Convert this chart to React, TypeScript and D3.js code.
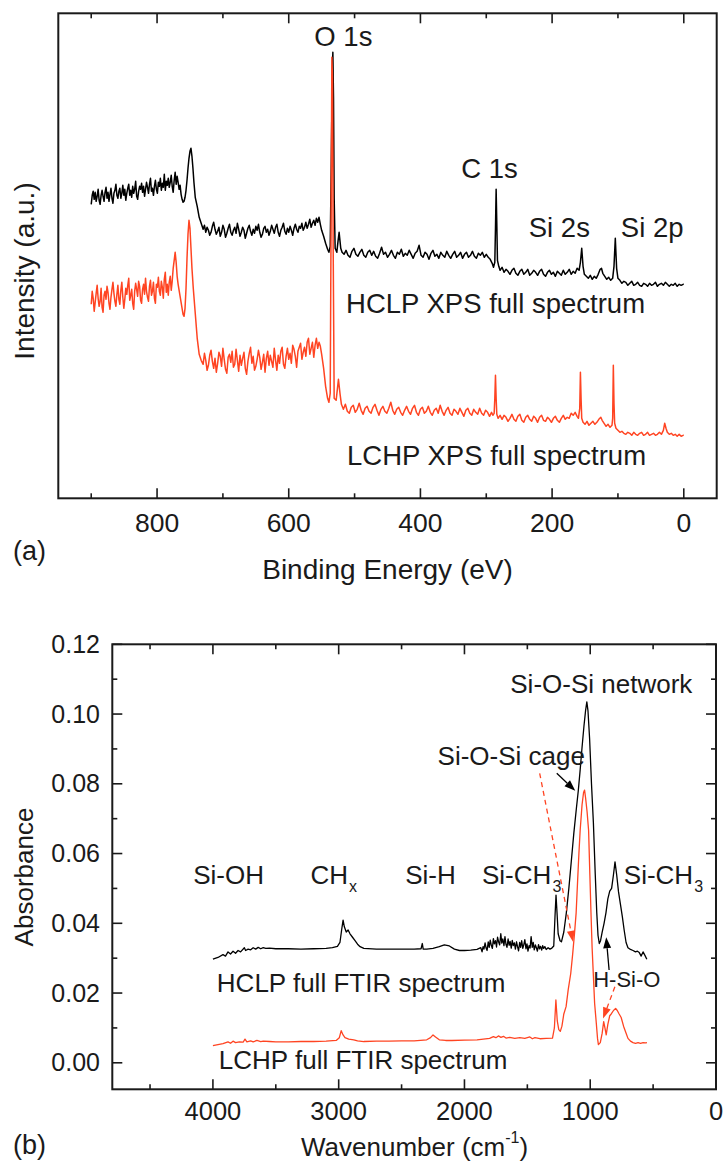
import React from 'react';
import * as d3 from 'd3';

const FONT = '"Liberation Sans", Arial, Helvetica, sans-serif';
const INK = '#1a1a1a';
const RED = '#ff4422';

// ---------- (a) XPS survey: binding energy (eV) vs intensity (a.u.) ----------
const xpsMajorTicks = [800, 600, 400, 200, 0];
const xpsMinorTicks = [900, 700, 500, 300, 100];

const hclpXps: [number, number][] = [
  [900, 294], [898.5, 303], [897, 307], [895.5, 299], [894, 306], [892.5, 297], [891, 302], [889.5, 309], [888, 298],
  [886.5, 294], [885, 303], [883.5, 308], [882, 302], [880.5, 297], [879, 306], [877.5, 311], [876, 300], [874.5, 306],
  [873, 297], [871.5, 304], [870, 310], [868.5, 300], [867, 295], [865.5, 305], [864, 308], [862.5, 314], [861, 303],
  [859.5, 300], [858, 307], [856.5, 310], [855, 300], [853.5, 305], [852, 313], [850.5, 303], [849, 309], [847.5, 298],
  [846, 305], [844.5, 310], [843, 314], [841.5, 303], [840, 308], [838.5, 301], [837, 312], [835.5, 305], [834, 309],
  [832.5, 317], [831, 302], [829.5, 299], [828, 307], [826.5, 312], [825, 309], [823.5, 315], [822, 306], [820.5, 312],
  [819, 302], [817.5, 309], [816, 316], [814.5, 311], [813, 305], [811.5, 314], [810, 320], [808.5, 307], [807, 310],
  [805.5, 303], [804, 312], [802.5, 318], [801, 309], [799.5, 305], [798, 316], [796.5, 312], [795, 320], [793.5, 308],
  [792, 315], [790.5, 311], [789, 324], [787.5, 308], [786, 317], [784.5, 313], [783, 320], [781.5, 311], [780, 316],
  [778.5, 323], [777, 312], [775.5, 306], [774, 318], [772.5, 326], [771, 314], [769.5, 322], [768, 316], [766.5, 309],
  [765, 313], [763.5, 304], [762, 299], [760.5, 296], [759, 297], [757.5, 301], [756, 308], [754.5, 318], [753, 330],
  [751.5, 340], [750, 347], [748.5, 350], [747, 342], [745.5, 330], [744, 316], [742, 301], [739, 292], [736, 281],
  [733, 275], [730, 269],
  [728, 273], [726, 266], [724, 271], [722, 268], [720, 263], [718, 266], [716, 272], [714, 276], [712, 269], [710, 264],
  [708, 267], [706, 271], [704, 262], [702, 266], [700, 273], [698, 269], [696, 261], [694, 265], [692, 270], [690, 274],
  [688, 266], [686, 263], [684, 268], [682, 271], [680, 265], [678, 275], [676, 269], [674, 262], [672, 266], [670, 271],
  [668, 268], [666, 260], [664, 265], [662, 270], [660, 273], [658, 267], [656, 263], [654, 269], [652, 265], [650, 272],
  [648, 268], [646, 274], [644, 266], [642, 261], [640, 264], [638, 270], [636, 272], [634, 266], [632, 269], [630, 263],
  [628, 267], [626, 273], [624, 269], [622, 265], [620, 271], [618, 274], [616, 266], [614, 262], [612, 268], [610, 271],
  [608, 275], [606, 267], [604, 264], [602, 270], [600, 266], [598, 272], [596, 268], [594, 263], [592, 270], [590, 274],
  [588, 269], [586, 266], [584, 272], [582, 270], [580, 275], [578, 268], [576, 271], [574, 276], [572, 270], [570, 274],
  [568, 279], [566, 271], [564, 275], [562, 278], [560, 273], [558, 280], [556, 276], [554, 281], [552, 274], [550, 268],
  [547, 262], [544, 255], [541, 249], [539, 246], [537, 252], [535.5, 330], [534, 420], [533, 446], [532, 400], [531, 300],
  [529.5, 250], [527, 246], [525, 258], [523.5, 266], [521, 250], [519, 246],
  [516, 244], [513, 248], [510, 243], [507, 241], [504, 247], [501, 250], [498, 244], [495, 242], [492, 246], [489, 249],
  [486, 243], [483, 241], [480, 246], [477, 248], [474, 243], [471, 247], [468, 242], [465, 240], [462, 245], [459, 251],
  [456, 244], [453, 246], [450, 241], [447, 244], [444, 248], [441, 243], [438, 240], [435, 246], [432, 244], [429, 249],
  [426, 242], [423, 245], [420, 243], [417, 248], [414, 244], [411, 240], [408, 245], [405, 247], [402, 253], [399, 243],
  [396, 241], [393, 246], [390, 244], [387, 239], [384, 245], [381, 248], [378, 242], [375, 244], [372, 240], [369, 246],
  [366, 243], [363, 241], [360, 247], [357, 243], [354, 240], [351, 244], [348, 247], [345, 241], [342, 243], [339, 246],
  [336, 240], [333, 244], [330, 246], [327, 241], [324, 243], [321, 247], [318, 242], [315, 240], [312, 245], [309, 243],
  [306, 246], [303, 241], [300, 244], [297, 241], [294, 239], [291, 235], [289, 231], [287, 236], [286, 270], [285, 309],
  [284, 275], [283, 238], [281, 232], [279, 228], [276, 231],
  [273, 226], [270, 229], [267, 227], [264, 224], [261, 228], [258, 230], [255, 225], [252, 223], [249, 227], [246, 229],
  [243, 224], [240, 226], [237, 229], [234, 223], [231, 225], [228, 228], [225, 226], [222, 223], [219, 227], [216, 229],
  [213, 224], [210, 222], [207, 226], [204, 228], [201, 224], [198, 226], [195, 222], [192, 227], [189, 225], [186, 223],
  [183, 228], [180, 224], [177, 226], [174, 229], [171, 224], [168, 227], [165, 225], [162, 230], [159, 228], [157, 236],
  [155, 250], [153, 232], [151, 224], [148, 222], [145, 220], [142, 223], [139, 219], [136, 222], [133, 220], [130, 224],
  [127, 229], [125, 230], [123, 225], [120, 222], [117, 219], [114, 221], [111, 218], [108, 220], [106, 232], [104, 260],
  [102, 230], [100, 220], [97, 218], [94, 215], [91, 217], [88, 216], [85, 213], [82, 215], [79, 217], [76, 213],
  [73, 214], [70, 216], [67, 213], [64, 212], [61, 215], [58, 214], [55, 212], [52, 215], [49, 213], [46, 214],
  [43, 216], [40, 212], [37, 214], [34, 215], [31, 213], [28, 216], [25, 214], [22, 212], [19, 214], [16, 213],
  [13, 215], [10, 212], [7, 214], [4, 213], [1, 214], [0, 214],
];

const lchpXps: [number, number][] = [
  [900, 194], [898.5, 207], [897, 200], [895.5, 187], [894, 196], [892.5, 205], [891, 213], [889.5, 200], [888, 192],
  [886.5, 197], [885, 210], [883.5, 191], [882, 186], [880.5, 203], [879, 207], [877.5, 199], [876, 212], [874.5, 206],
  [873, 195], [871.5, 189], [870, 201], [868.5, 209], [867, 216], [865.5, 205], [864, 197], [862.5, 192], [861, 204],
  [859.5, 213], [858, 199], [856.5, 194], [855, 208], [853.5, 216], [852, 201], [850.5, 190], [849, 199], [847.5, 210],
  [846, 204], [844.5, 213], [843, 220], [841.5, 198], [840, 203], [838.5, 209], [837, 195], [835.5, 189], [834, 207],
  [832.5, 215], [831, 209], [829.5, 202], [828, 217], [826.5, 212], [825, 198], [823.5, 195], [822, 209], [820.5, 214],
  [819, 204], [817.5, 220], [816, 207], [814.5, 201], [813, 197], [811.5, 212], [810, 218], [808.5, 203], [807, 207],
  [805.5, 216], [804, 200], [802.5, 195], [801, 214], [799.5, 211], [798, 221], [796.5, 207], [795, 203], [793.5, 217],
  [792, 211], [790.5, 200], [789, 219], [787.5, 226], [786, 206], [784.5, 214], [783, 203], [781.5, 216], [780, 222],
  [778.5, 208], [777, 217], [775.5, 230], [774, 238], [772.5, 246], [771, 236], [769.5, 222], [768, 214], [766.5, 208],
  [765, 202], [763.5, 196], [762, 190], [760.5, 184], [759, 182], [757.5, 190], [756, 210], [754.5, 240], [753, 264],
  [751.5, 278], [750, 270], [748.5, 250], [747, 230], [745, 210], [742, 185], [739, 160], [736, 144], [733, 138],
  [730, 134], [728, 145], [726, 138], [724, 128], [722, 133], [720, 143], [718, 148], [716, 137], [714, 130], [712, 140],
  [710, 126], [708, 135], [706, 146], [704, 142], [702, 132], [700, 150], [698, 139], [696, 129], [694, 125], [692, 141],
  [690, 144], [688, 136], [686, 147], [684, 131], [682, 134], [680, 149], [678, 138], [676, 127], [674, 143], [672, 133],
  [670, 140], [668, 146], [666, 130], [664, 124], [662, 137], [660, 145], [658, 151], [656, 135], [654, 142], [652, 128],
  [650, 132], [648, 139], [646, 148], [644, 141], [642, 129], [640, 136], [638, 144], [636, 126], [634, 140], [632, 147],
  [630, 133], [628, 143], [626, 137], [624, 131], [622, 150], [620, 138], [618, 128], [616, 143], [614, 135], [612, 147],
  [610, 151], [608, 134], [606, 130], [604, 142], [602, 150], [600, 139], [598, 145], [596, 135], [594, 153], [592, 149],
  [590, 142], [588, 131], [586, 147], [584, 151], [582, 155], [580, 139], [578, 146], [576, 151], [574, 142], [572, 156],
  [570, 160], [568, 144], [566, 150], [564, 156], [562, 141], [560, 153], [558, 160], [556, 150], [554, 156], [552, 152],
  [550, 144], [547, 130], [544, 112], [541, 100], [539, 96], [537, 105], [535.5, 300], [534.5, 441], [533.5, 420],
  [532.5, 250], [531, 100], [528, 98], [526, 110], [524.5, 119], [522, 104], [520, 94],
  [517, 89], [514, 94], [511, 87], [508, 85], [505, 91], [502, 93], [499, 86], [496, 89], [493, 95], [490, 88],
  [487, 84], [484, 90], [481, 92], [478, 87], [475, 85], [472, 91], [469, 94], [466, 88], [463, 83], [460, 89],
  [457, 92], [454, 87], [451, 85], [448, 90], [445, 96], [442, 88], [439, 84], [436, 89], [433, 91], [430, 86],
  [427, 83], [424, 88], [421, 92], [418, 87], [415, 84], [412, 90], [409, 93], [406, 86], [403, 83], [400, 89],
  [397, 91], [394, 85], [391, 87], [388, 92], [385, 86], [382, 83], [379, 88], [376, 90], [373, 85], [370, 93],
  [367, 87], [364, 83], [361, 88], [358, 91], [355, 85], [352, 83], [349, 89], [346, 87], [343, 84], [340, 90],
  [337, 86], [334, 82], [331, 88], [328, 90], [325, 85], [322, 83], [319, 89], [316, 86], [313, 84], [310, 90],
  [307, 85], [304, 83], [301, 88], [298, 86], [295, 82], [292, 86], [290, 83], [288, 85], [287, 100], [286, 123],
  [285, 100], [284, 84], [282, 80], [279, 83],
  [276, 79], [273, 83], [270, 81], [267, 77], [264, 80], [261, 84], [258, 79], [255, 77], [252, 82], [249, 84],
  [246, 78], [243, 76], [240, 81], [237, 83], [234, 79], [231, 77], [228, 82], [225, 80], [222, 76], [219, 81],
  [216, 83], [213, 78], [210, 77], [207, 81], [204, 79], [201, 76], [198, 80], [195, 82], [192, 78], [189, 76],
  [186, 80], [183, 83], [180, 79], [177, 81], [174, 80], [171, 85], [168, 83], [165, 86], [162, 82], [160, 80],
  [158, 90], [157, 126], [156, 100], [155, 80], [153, 76], [150, 74], [147, 77], [144, 73], [141, 75], [138, 77],
  [135, 74], [132, 76], [129, 79], [126, 81], [124, 78], [121, 75], [118, 72], [115, 74], [112, 71], [109, 73],
  [108, 80], [107, 133], [106, 95], [105, 75], [103, 70], [100, 68], [97, 66], [94, 67], [91, 65], [88, 64],
  [85, 66], [82, 65], [79, 63], [76, 66], [73, 64], [70, 63], [67, 65], [64, 66], [61, 63], [58, 64],
  [55, 66], [52, 63], [49, 64], [46, 65], [43, 63], [40, 64], [37, 66], [34, 64], [31, 68], [29, 75],
  [27, 70], [25, 66], [22, 64], [19, 65], [16, 63], [13, 64], [10, 62], [7, 64], [4, 62], [1, 63], [0, 63],
];

// peak labels: [text, energy at text centre, intensity at baseline]
const xpsPeakLabels: [string, number, number][] = [
  ['O 1s', 517, 452],
  ['C 1s', 295, 320],
  ['Si 2s', 189, 261],
  ['Si 2p', 48, 261],
];
// curve labels: [text, energy at text start, intensity at baseline]
const xpsCurveLabels: [string, number, number][] = [
  ['HCLP XPS full spectrum', 513, 185],
  ['LCHP XPS full spectrum', 511.5, 33],
];

// ---------- (b) FTIR: wavenumber (cm-1) vs absorbance ----------
const irMajorTicks = [4000, 3000, 2000, 1000, 0];
const irMinorTicks = [4500, 3500, 2500, 1500, 500];
const absMajorTicks = [0, 0.02, 0.04, 0.06, 0.08, 0.1, 0.12];
const absMinorTicks = [0.01, 0.03, 0.05, 0.07, 0.09, 0.11];

const hclpFtir: [number, number][] = [
  [4000, 0.0297], [3960, 0.0302], [3920, 0.0310], [3900, 0.0306], [3880, 0.0318], [3860, 0.0312], [3840, 0.0320],
  [3820, 0.0314], [3800, 0.0322], [3780, 0.0318], [3750, 0.0330], [3740, 0.0322], [3720, 0.0326], [3700, 0.0324],
  [3680, 0.0330], [3660, 0.0326], [3640, 0.0331], [3620, 0.0327], [3600, 0.0330], [3580, 0.0328], [3550, 0.0329],
  [3500, 0.0327], [3400, 0.0327], [3300, 0.0326], [3200, 0.0327], [3100, 0.0328], [3050, 0.0330], [3010, 0.0334],
  [2990, 0.0345], [2975, 0.0385], [2965, 0.0409], [2955, 0.0390], [2940, 0.0375], [2925, 0.0381], [2910, 0.0370],
  [2890, 0.0360], [2870, 0.0350], [2850, 0.0340], [2830, 0.0333], [2800, 0.0328], [2700, 0.0326], [2600, 0.0326],
  [2500, 0.0326], [2400, 0.0326], [2345, 0.0327], [2335, 0.0342], [2328, 0.0326], [2300, 0.0326], [2250, 0.0328],
  [2200, 0.0333], [2160, 0.0338], [2120, 0.0335], [2080, 0.0326], [2040, 0.0322], [2000, 0.0322], [1950, 0.0323],
  [1900, 0.0325], [1870, 0.0330],
  [1860, 0.0318], [1852, 0.0333], [1845, 0.0326], [1836, 0.0344], [1828, 0.0329], [1820, 0.0322], [1811, 0.0347],
  [1803, 0.0331], [1795, 0.0352], [1786, 0.0336], [1778, 0.0328], [1770, 0.0356], [1762, 0.0341], [1753, 0.0350],
  [1745, 0.0332], [1737, 0.0360], [1728, 0.0346], [1720, 0.0338], [1711, 0.0370], [1703, 0.0343], [1695, 0.0355],
  [1686, 0.0336], [1678, 0.0362], [1670, 0.0340], [1662, 0.0331], [1653, 0.0355], [1645, 0.0337], [1637, 0.0348],
  [1628, 0.0329], [1620, 0.0351], [1612, 0.0336], [1603, 0.0344], [1595, 0.0326], [1586, 0.0347], [1578, 0.0333],
  [1570, 0.0321], [1561, 0.0345], [1553, 0.0331], [1545, 0.0350], [1536, 0.0328], [1528, 0.0339], [1520, 0.0353],
  [1511, 0.0327], [1503, 0.0341], [1495, 0.0320], [1486, 0.0336], [1478, 0.0329], [1470, 0.0362], [1461, 0.0331],
  [1453, 0.0345], [1445, 0.0324], [1436, 0.0338], [1428, 0.0330], [1420, 0.0320], [1411, 0.0339], [1403, 0.0327],
  [1395, 0.0334], [1386, 0.0323], [1378, 0.0336], [1370, 0.0328], [1361, 0.0333], [1350, 0.0325], [1335, 0.0330],
  [1320, 0.0326], [1305, 0.0329], [1290, 0.0335], [1280, 0.0420], [1272, 0.0481], [1264, 0.0430],
  [1255, 0.0370], [1240, 0.0350], [1229, 0.0347], [1210, 0.0375], [1190, 0.0430], [1170, 0.0500], [1150, 0.0580],
  [1130, 0.0660], [1110, 0.0730], [1095, 0.0780], [1080, 0.0840], [1065, 0.0905], [1050, 0.0965], [1037, 0.1010],
  [1027, 0.1035], [1018, 0.1010], [1005, 0.0930], [990, 0.0800], [975, 0.0690], [960, 0.0540], [948, 0.0430],
  [938, 0.0365], [928, 0.0342], [918, 0.0350], [905, 0.0375], [890, 0.0400], [875, 0.0430], [860, 0.0470],
  [845, 0.0492], [830, 0.0500], [815, 0.0540], [803, 0.0576], [790, 0.0540], [775, 0.0490], [760, 0.0455],
  [745, 0.0420], [730, 0.0380], [715, 0.0345], [700, 0.0330], [680, 0.0325], [660, 0.0322], [640, 0.0318],
  [625, 0.0320], [610, 0.0316], [595, 0.0306], [580, 0.0318], [565, 0.0308], [550, 0.0297],
];

const lchpFtir: [number, number][] = [
  [4000, 0.0049], [3960, 0.0052], [3920, 0.0055], [3880, 0.0060], [3860, 0.0056], [3840, 0.0062], [3820, 0.0058],
  [3790, 0.0060], [3760, 0.0059], [3745, 0.0068], [3730, 0.0060], [3700, 0.0063], [3680, 0.0060], [3650, 0.0064],
  [3620, 0.0061], [3600, 0.0062], [3550, 0.0061], [3500, 0.0060], [3400, 0.0060], [3300, 0.0061], [3200, 0.0061],
  [3100, 0.0062], [3020, 0.0064], [2995, 0.0072], [2980, 0.0092], [2965, 0.0080], [2950, 0.0072], [2920, 0.0068],
  [2880, 0.0066], [2850, 0.0063], [2800, 0.0061], [2700, 0.0062], [2600, 0.0062], [2500, 0.0063], [2400, 0.0063],
  [2300, 0.0066], [2270, 0.0072], [2250, 0.0080], [2230, 0.0074], [2200, 0.0066], [2150, 0.0064], [2100, 0.0064],
  [2000, 0.0065], [1900, 0.0066], [1850, 0.0068], [1800, 0.0070], [1770, 0.0075], [1750, 0.0072], [1730, 0.0077],
  [1710, 0.0073], [1690, 0.0076], [1670, 0.0071], [1640, 0.0073], [1600, 0.0070], [1560, 0.0072], [1520, 0.0070],
  [1480, 0.0074], [1460, 0.0069], [1440, 0.0072], [1400, 0.0069], [1350, 0.0070], [1300, 0.0071], [1285, 0.0100],
  [1273, 0.0180], [1262, 0.0120], [1250, 0.0095], [1238, 0.0090], [1225, 0.0105], [1210, 0.0140], [1192, 0.0161],
  [1175, 0.0210], [1155, 0.0256], [1140, 0.0310], [1125, 0.0371], [1112, 0.0430], [1100, 0.0524], [1090, 0.0600],
  [1080, 0.0667], [1065, 0.0740], [1053, 0.0775], [1045, 0.0782], [1037, 0.0760], [1025, 0.0720], [1013, 0.0667],
  [1003, 0.0540], [994, 0.0430], [985, 0.0330], [975, 0.0250], [965, 0.0170], [952, 0.0115], [942, 0.0070],
  [935, 0.0052], [920, 0.0058], [905, 0.0085], [893, 0.0118], [882, 0.0098], [873, 0.0080], [860, 0.0110],
  [845, 0.0135], [833, 0.0140], [815, 0.0150], [798, 0.0156], [785, 0.0150], [770, 0.0140], [754, 0.0130],
  [735, 0.0105], [717, 0.0087], [700, 0.0070], [680, 0.0062], [660, 0.0058], [640, 0.0056], [620, 0.0058],
  [600, 0.0056], [580, 0.0058], [560, 0.0057], [549, 0.0058],
];

// band labels: [text, subscript, wavenumber at text start, absorbance at baseline]
const bandLabels: [string, string, number, number][] = [
  ['Si-OH', '', 4157, 0.0513],
  ['CH', 'x', 3224, 0.0513],
  ['Si-H', '', 2471, 0.0513],
  ['Si-CH', '3', 1861, 0.0513],
  ['Si-CH', '3', 733, 0.0513],
];
const irCurveLabels: [string, number, number][] = [
  ['HCLP full FTIR spectrum', 2822, 0.0203],
  ['LCHP full FTIR spectrum', 2806, -0.0018],
];
// arrows: [from wn, from A, to wn, to A, dashed red?]
const irArrows: [number, number, number, number, boolean][] = [
  [1266, 0.0830, 1119, 0.0780, false],
  [1402, 0.0830, 1137, 0.0347, true],
  [850, 0.0266, 873, 0.0360, false],
  [804, 0.0218, 898, 0.0127, true],
];

// ---------- layout ----------
const W = 724;
const H = 1164;
const topBox = { left: 58.3, right: 716.7, top: 13.3, bottom: 498.3 };
const botBox = { left: 112.3, right: 716, top: 644.3, bottom: 1089.3 };

const xXps = d3.scaleLinear().domain([950, -50]).range([topBox.left, topBox.right]);
const yXps = d3.scaleLinear().domain([0, 485]).range([topBox.bottom, topBox.top]);
const xIr = d3.scaleLinear().domain([4800, 0]).range([botBox.left, botBox.right]);
const yIr = d3.scaleLinear().domain([-0.0076, 0.12]).range([botBox.bottom, botBox.top]);

const MAJOR = 10;
const MINOR = 5;

function Arrow({ x1, y1, x2, y2, color, dashed }: { x1: number; y1: number; x2: number; y2: number; color: string; dashed: boolean }) {
  const ang = Math.atan2(y2 - y1, x2 - x1);
  const len = 11;
  const half = 4;
  const bx = x2 - len * Math.cos(ang);
  const by = y2 - len * Math.sin(ang);
  const px = -Math.sin(ang) * half;
  const py = Math.cos(ang) * half;
  return (
    <g>
      <line x1={x1} y1={y1} x2={bx} y2={by} stroke={color} strokeWidth={1.3} strokeDasharray={dashed ? '5 4' : undefined} />
      <polygon points={`${x2},${y2} ${bx + px},${by + py} ${bx - px},${by - py}`} fill={color} />
    </g>
  );
}

export default function App() {
  const xpsLine = d3.line<[number, number]>().x((d) => xXps(d[0])).y((d) => yXps(d[1]));
  const irLine = d3.line<[number, number]>().x((d) => xIr(d[0])).y((d) => yIr(d[1]));

  const txt = { fontFamily: FONT, fill: INK } as const;

  return (
    <svg width={W} height={H} viewBox={`0 0 ${W} ${H}`} style={{ position: 'absolute', left: 0, top: 0, background: '#fff' }}>
      <rect x={0} y={0} width={W} height={H} fill="#fff" />

      {/* ===== panel (a) ===== */}
      <g>
        <clipPath id="clipA">
          <rect x={topBox.left} y={topBox.top} width={topBox.right - topBox.left} height={topBox.bottom - topBox.top} />
        </clipPath>
        <g clipPath="url(#clipA)" fill="none" strokeLinejoin="round">
          <path d={xpsLine(hclpXps) ?? ''} stroke="#000" strokeWidth={1.5} />
          <path d={xpsLine(lchpXps) ?? ''} stroke={RED} strokeWidth={1.5} />
        </g>
        {xpsMajorTicks.map((v) => (
          <g key={`am${v}`} stroke={INK} strokeWidth={1.6}>
            <line x1={xXps(v)} x2={xXps(v)} y1={topBox.bottom} y2={topBox.bottom - MAJOR} />
            <line x1={xXps(v)} x2={xXps(v)} y1={topBox.top} y2={topBox.top + MAJOR} />
          </g>
        ))}
        {xpsMinorTicks.map((v) => (
          <g key={`an${v}`} stroke={INK} strokeWidth={1.6}>
            <line x1={xXps(v)} x2={xXps(v)} y1={topBox.bottom} y2={topBox.bottom - MINOR} />
            <line x1={xXps(v)} x2={xXps(v)} y1={topBox.top} y2={topBox.top + MINOR} />
          </g>
        ))}
        <rect x={topBox.left} y={topBox.top} width={topBox.right - topBox.left} height={topBox.bottom - topBox.top}
          fill="none" stroke={INK} strokeWidth={2} />
        {xpsMajorTicks.map((v) => (
          <text key={`al${v}`} x={xXps(v)} y={531.5} textAnchor="middle" fontSize={26.5} {...txt}>{v}</text>
        ))}
        {xpsPeakLabels.map(([t, e, i]) => (
          <text key={t} x={xXps(e)} y={yXps(i)} textAnchor="middle" fontSize={27.5} {...txt}>{t}</text>
        ))}
        {xpsCurveLabels.map(([t, e, i]) => (
          <text key={t} x={xXps(e)} y={yXps(i)} textAnchor="start" fontSize={27.5} {...txt}>{t}</text>
        ))}
        <text x={387.5} y={578.5} textAnchor="middle" fontSize={28} {...txt}>Binding Energy (eV)</text>
        <text transform="translate(33.5,271) rotate(-90)" textAnchor="middle" fontSize={28} {...txt}>Intensity (a.u.)</text>
        <text x={13} y={559.5} fontSize={27} {...txt}>(a)</text>
      </g>

      {/* ===== panel (b) ===== */}
      <g>
        <clipPath id="clipB">
          <rect x={botBox.left} y={botBox.top} width={botBox.right - botBox.left} height={botBox.bottom - botBox.top} />
        </clipPath>
        <g clipPath="url(#clipB)" fill="none" strokeLinejoin="round">
          <path d={irLine(hclpFtir) ?? ''} stroke="#000" strokeWidth={1.3} />
          <path d={irLine(lchpFtir) ?? ''} stroke={RED} strokeWidth={1.3} />
        </g>
        {irMajorTicks.map((v) => (
          <g key={`bm${v}`} stroke={INK} strokeWidth={1.6}>
            <line x1={xIr(v)} x2={xIr(v)} y1={botBox.bottom} y2={botBox.bottom - MAJOR} />
            <line x1={xIr(v)} x2={xIr(v)} y1={botBox.top} y2={botBox.top + MAJOR} />
          </g>
        ))}
        {irMinorTicks.map((v) => (
          <g key={`bn${v}`} stroke={INK} strokeWidth={1.6}>
            <line x1={xIr(v)} x2={xIr(v)} y1={botBox.bottom} y2={botBox.bottom - MINOR} />
            <line x1={xIr(v)} x2={xIr(v)} y1={botBox.top} y2={botBox.top + MINOR} />
          </g>
        ))}
        {absMajorTicks.map((v) => (
          <g key={`ym${v}`} stroke={INK} strokeWidth={1.6}>
            <line x1={botBox.left} x2={botBox.left + MAJOR} y1={yIr(v)} y2={yIr(v)} />
            <line x1={botBox.right} x2={botBox.right - MAJOR} y1={yIr(v)} y2={yIr(v)} />
          </g>
        ))}
        {absMinorTicks.map((v) => (
          <g key={`yn${v}`} stroke={INK} strokeWidth={1.6}>
            <line x1={botBox.left} x2={botBox.left + MINOR} y1={yIr(v)} y2={yIr(v)} />
            <line x1={botBox.right} x2={botBox.right - MINOR} y1={yIr(v)} y2={yIr(v)} />
          </g>
        ))}
        <rect x={botBox.left} y={botBox.top} width={botBox.right - botBox.left} height={botBox.bottom - botBox.top}
          fill="none" stroke={INK} strokeWidth={2} />
        {irMajorTicks.map((v) => (
          <text key={`bl${v}`} x={xIr(v)} y={1119.5} textAnchor="middle" fontSize={25.5} {...txt}>{v}</text>
        ))}
        {absMajorTicks.map((v) => (
          <text key={`yl${v}`} x={100} y={yIr(v) + 8.6} textAnchor="end" fontSize={25} {...txt}>{v.toFixed(2)}</text>
        ))}

        {bandLabels.map(([t, sub, wn, a], i) => {
          const x0 = xIr(wn);
          const y0 = yIr(a);
          const w = t === 'CH' ? 37.5 : t === 'Si-CH' ? 69.5 : 0;
          return (
            <g key={`band${i}`}>
              <text x={x0} y={y0} fontSize={26} {...txt}>{t}</text>
              {sub && <text x={x0 + w + 1} y={y0 + 8} fontSize={16} {...txt}>{sub}</text>}
            </g>
          );
        })}
        <text x={xIr(912)} y={yIr(0.106)} textAnchor="middle" fontSize={26} {...txt}>Si-O-Si network</text>
        <text x={xIr(1628)} y={yIr(0.0853)} textAnchor="middle" fontSize={26} {...txt}>Si-O-Si cage</text>
        <text x={xIr(709)} y={yIr(0.0218)} textAnchor="middle" fontSize={22} {...txt}>H-Si-O</text>
        {irCurveLabels.map(([t, wn, a]) => (
          <text key={t} x={xIr(wn)} y={yIr(a)} textAnchor="middle" fontSize={26} {...txt}>{t}</text>
        ))}
        {irArrows.map(([w1, a1, w2, a2, dashed], i) => (
          <Arrow key={`arr${i}`} x1={xIr(w1)} y1={yIr(a1)} x2={xIr(w2)} y2={yIr(a2)}
            color={dashed ? RED : '#000'} dashed={dashed} />
        ))}

        <text x={301} y={1155.5} fontSize={26} {...txt}>
          Wavenumber (cm<tspan fontSize={16} dy={-13}>-1</tspan><tspan dy={13}>)</tspan>
        </text>
        <text transform="translate(32.5,877) rotate(-90)" textAnchor="middle" fontSize={26} {...txt}>Absorbance</text>
        <text x={13} y={1154} fontSize={27} {...txt}>(b)</text>
      </g>
    </svg>
  );
}
